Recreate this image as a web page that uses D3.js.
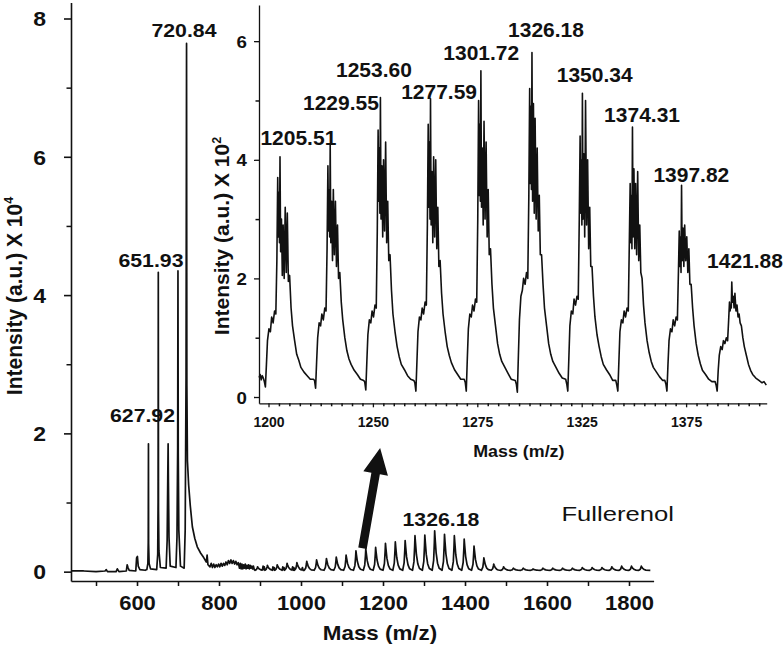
<!DOCTYPE html>
<html><head><meta charset="utf-8">
<script src="https://cdn.jsdelivr.net/npm/d3@7"></script>
<style>body{margin:0;background:#fff}svg{display:block}text{font-family:"Liberation Sans",Arial,sans-serif}</style>
</head><body><svg id="c" width="784" height="646"></svg>
<script>
// ---------- DATA ----------
// main spectrum, low-mass region: [m/z, intensity x10^4]
const mainTrace = [[439,0.01],[470,0.01],[500,0.0],[522,0.01],[525,0.03],[528,0.0],[549,0.0],[552,0.04],[556,0.0],[574,0.01],[576,0.1],[578,0.06],[581,0.02],[597,0.01],[599,0.2],[601,0.22],[603,0.08],[607,0.03],[620,0.02],
 [624,0.03],[626.5,0.12],[627.4,0.42],[627.92,1.85],[628.3,0.4],[629.5,0.12],[633,0.04],
 [648,0.03],[650.5,0.25],[651.4,1.0],[651.93,4.33],[652.4,0.9],[653.5,0.3],[657,0.06],
 [671,0.05],[673.5,0.45],[675,1.35],[675.9,1.85],[676.6,1.3],[678,0.5],[681,0.08],
 [695,0.06],[697.5,0.5],[699.2,1.8],[699.9,4.35],[700.6,1.7],[702,0.6],[706,0.08],
 [715,0.05],[717.5,0.6],[719.6,2.8],[720.84,7.64],[721.6,2.7],[723,1.6],[726,1.25],[730,0.95],[735,0.65],[741,0.48],[747,0.36],[755,0.27],[763,0.2],[769,0.14],[771,0.24],[773,0.1],
 [778,0.07],[781,0.12],[784,0.06],[787,0.11],[790,0.06],[793,0.1],[796,0.07],[799,0.11],[802,0.07],[805,0.12],[808,0.08],[811,0.12],[814,0.09],[817,0.14],[820,0.1],[823,0.16],[826,0.12],[829,0.17],[832,0.12],[835,0.16],[838,0.11],[841,0.15],[844,0.1],[847,0.13],
 [850,0.05],[852,0.12],[854,0.04],[856,0.11],[858,0.04],[860,0.1],[862,0.05],[864,0.11],[866,0.04],[868,0.09],[870,0.05],[872,0.1],[874,0.04],[876,0.09],[878,0.05],[880,0.08],[882,0.04],[884,0.08],[886,0.03]];
// valley noise between the first cluster peaks
const clusterNoise = [[906,0.03],[907.5,0.08],[909,0.03],[910.5,0.07],[930,0.02],[931.5,0.07],[933,0.03],[934.5,0.06],[954,0.02],[955.5,0.07],[957,0.03],[958.5,0.06],[978,0.03],[979.5,0.07],[981,0.02],[982.5,0.06],[1002,0.03],[1003.5,0.06],[1005,0.02]];
// main spectrum, fullerenol cluster peaks (m/z) and heights (x10^4)
const clusterMass = [894,918,942,966,990,1014,1038,1062,1086,1110,1134,1158,1182,1206,1230,1254,1278,1302,1326,1350,1374,1398,1422,1446,1470,1494,1518,1542,1566,1590,1614,1638,1662,1686,1710,1734,1758,1782,1806,1830];
const clusterHeight = [0.07,0.09,0.1,0.12,0.13,0.15,0.17,0.19,0.21,0.24,0.3,0.33,0.35,0.41,0.43,0.45,0.52,0.53,0.59,0.54,0.52,0.47,0.37,0.2,0.11,0.07,0.05,0.05,0.04,0.05,0.05,0.05,0.05,0.06,0.06,0.06,0.07,0.08,0.08,0.08];

// inset spectrum (x10^2): peaks, and profile values at mass offsets from each peak
const insetPeaks = [1205.51,1229.55,1253.60,1277.59,1301.72,1326.18,1350.34,1374.31,1397.82,1421.88];
const insetOffsets = [-8,-7.5,-7,-6.5,-6,-5.3,-4.6,-4,-3.3,-2.6,-2,-1.5,-1.1,-0.8,-0.5,-0.25,0,0.3,0.7,1.1,1.5,2,2.5,3,3.5,4,4.6,5.3,6,7,8,9,10,11.5,13,14.5];
const insetC1 = [0.32,0.26,0.17,0.55,0.95,1.15,1.1,1.35,1.25,1.45,1.4,2.3,3.7,2.7,3.45,2.6,4.05,2.45,3.0,2.05,2.9,2.0,3.2,2.1,3.1,1.95,2.05,1.5,1.2,0.95,0.72,0.62,0.5,0.42,0.36,0.3];
const insetC2 = [0.3,0.28,0.15,0.6,1.0,1.25,1.2,1.4,1.3,1.5,1.45,2.5,3.9,2.8,3.5,2.7,4.27,2.6,3.3,2.3,3.5,2.4,3.3,2.2,2.9,2.0,2.1,1.6,1.3,1.0,0.78,0.64,0.55,0.45,0.38,0.3];
const insetC3 = [0.28,0.25,0.12,0.6,1.05,1.3,1.25,1.45,1.35,1.55,1.5,2.8,4.5,3.3,4.2,3.1,5.05,3.0,3.9,2.7,4.0,2.8,4.3,2.6,3.3,2.3,2.4,1.8,1.4,1.1,0.85,0.68,0.55,0.46,0.36,0.3];
const insetC4 = [0.28,0.24,0.1,0.6,1.1,1.35,1.3,1.5,1.4,1.6,1.55,2.9,4.6,3.2,4.3,3.0,5.03,2.9,3.8,2.6,4.05,2.7,4.0,2.5,3.2,2.2,2.3,1.75,1.4,1.1,0.85,0.7,0.58,0.46,0.38,0.3];
const insetC5 = [0.3,0.25,0.1,0.65,1.15,1.4,1.35,1.55,1.45,1.65,1.6,3.0,5.0,3.4,4.6,3.3,5.5,3.2,4.2,2.9,4.65,3.0,4.3,2.7,3.5,2.4,2.5,1.9,1.5,1.2,0.9,0.72,0.6,0.5,0.4,0.3];
const insetC6 = [0.28,0.22,0.08,0.7,1.3,1.7,1.8,2.0,1.9,2.1,2.0,3.4,5.2,3.6,4.9,3.5,5.81,3.3,4.95,3.1,4.7,3.0,4.2,2.8,3.4,2.4,2.4,1.9,1.5,1.2,0.9,0.72,0.6,0.5,0.4,0.32];
const insetC7 = [0.3,0.22,0.1,0.65,1.2,1.45,1.4,1.65,1.55,1.7,1.65,3.0,4.4,3.1,4.0,2.9,5.12,3.0,4.1,2.7,5.0,2.9,4.0,2.5,3.2,2.2,2.2,1.7,1.35,1.05,0.85,0.68,0.55,0.46,0.38,0.28];
const insetC8 = [0.28,0.2,0.1,0.6,1.1,1.3,1.25,1.45,1.35,1.5,1.45,2.6,3.6,2.6,3.4,2.5,4.55,2.7,3.85,2.5,3.6,2.4,3.8,2.3,2.9,2.1,2.0,1.55,1.25,0.95,0.75,0.6,0.5,0.42,0.34,0.28];
const insetC9 = [0.28,0.22,0.1,0.55,0.95,1.15,1.1,1.3,1.2,1.35,1.3,2.1,2.8,2.2,2.7,2.1,3.57,2.3,2.85,2.2,2.9,2.3,2.7,2.1,2.5,1.9,1.9,1.5,1.2,0.9,0.7,0.56,0.45,0.38,0.3,0.26];
const insetC10 = [0.26,0.2,0.1,0.45,0.7,0.85,0.8,0.95,0.9,1.0,0.95,1.3,1.6,1.45,1.55,1.5,1.94,1.6,1.7,1.5,1.75,1.45,1.55,1.35,1.4,1.25,1.2,1.0,0.85,0.7,0.55,0.45,0.38,0.32,0.28,0.24];
const insetLead = [[1195.5,0.33],[1196,0.38],[1196.5,0.29],[1197,0.36]];
const insetTail = [[1437.3,0.26],[1438.4,0.2]];

// axes ticks and labels
const mainYTicks = [0,2,4,6,8], mainYMinor = [1,3,5,7];
const mainXTicks = [600,800,1000,1200,1400,1600,1800], mainXMinor = [500,700,900,1100,1300,1500,1700];
const insetYTicks = [0,2,4,6], insetYMinor = [1,3,5];
const insetXTicks = [1200,1250,1300,1350,1400];
const insetXTickLabels = ["1200","1250","1275","1325","1375"];
// annotations (label text at data coordinates)
const mainLabels = [["720.84",714.6,7.73],["651.93",634.1,4.41],["627.92",613.4,2.17],["1326.18",1341.4,0.66]];
const insetLabels = [["1205.51",1214.3,4.25],["1229.55",1234.7,4.84],["1253.60",1250.5,5.40],["1277.59",1281.7,5.02],["1301.72",1301.9,5.68],["1326.18",1332.9,6.07],["1350.34",1356.2,5.31],["1374.31",1378.9,4.64],["1397.82",1402.5,3.63],["1421.88",1428.2,2.17]];
const arrowFrom = [1150,0.34], arrowTo = [1193,1.79];

// ---------- DRAW ----------
const svg = d3.select("#c");
const FONT = '"Liberation Sans",Arial,sans-serif';
const x = d3.scaleLinear().domain([439,1860]).range([71,653.6]);
const y = d3.scaleLinear().domain([-0.135,8.23]).range([581,2.6]);
const xi = d3.scaleLinear().domain([1195.45,1438.6]).range([259,766.7]);
const yi = d3.scaleLinear().domain([-0.106,6.61]).range([403.3,5]);

function styleAxis(g, sw){
  g.select(".domain").attr("stroke","#111").attr("stroke-width",sw);
  g.selectAll(".tick line").attr("stroke","#111").attr("stroke-width",sw);
}
function styleText(g, dx, dy, fs, sx, anchor, dyEm){
  g.selectAll(".tick text").attr("x",0).attr("y",0).attr("dy",dyEm)
   .attr("text-anchor",anchor).attr("fill","#111")
   .attr("transform",`translate(${dx},${dy}) scale(${sx},1)`)
   .style("font-size",fs+"px").style("font-weight","bold").style("font-family",FONT);
}
function minor(g){ g.select(".domain").remove(); g.selectAll(".tick line").attr("stroke","#111").attr("stroke-width",1.5); }

// main axes
const gmy = svg.append("g").attr("transform",`translate(${x.range()[0]},0)`)
  .call(d3.axisLeft(y).tickValues(mainYTicks).tickSize(7).tickSizeOuter(0).tickFormat(d3.format("d")));
styleAxis(gmy,1.6); styleText(gmy,-25,0,20,1.15,"end","0.36em");
svg.append("g").attr("transform",`translate(${x.range()[0]},0)`)
  .call(d3.axisLeft(y).tickValues(mainYMinor).tickSize(4.5).tickSizeOuter(0).tickFormat("")).call(minor);
const gmx = svg.append("g").attr("transform",`translate(0,${y.range()[0]})`)
  .call(d3.axisBottom(x).tickValues(mainXTicks).tickSize(5).tickSizeOuter(0).tickFormat(d3.format("d")));
styleAxis(gmx,1.6); styleText(gmx,0,29,20,1.1,"middle","0");
svg.append("g").attr("transform",`translate(0,${y.range()[0]})`)
  .call(d3.axisBottom(x).tickValues(mainXMinor).tickSize(5).tickSizeOuter(0).tickFormat("")).call(minor);

// inset axes
const giy = svg.append("g").attr("transform",`translate(${xi.range()[0]},0)`)
  .call(d3.axisLeft(yi).tickValues(insetYTicks).tickSize(5).tickSizeOuter(0).tickFormat(d3.format("d")));
styleAxis(giy,1.3); styleText(giy,-12,0,17,1.1,"end","0.36em");
svg.append("g").attr("transform",`translate(${xi.range()[0]},0)`)
  .call(d3.axisLeft(yi).tickValues(insetYMinor).tickSize(3.5).tickSizeOuter(0).tickFormat("")).call(minor);
const gix = svg.append("g").attr("transform",`translate(0,${yi.range()[0]})`)
  .call(d3.axisBottom(xi).tickValues(insetXTicks).tickSize(4).tickSizeOuter(0).tickFormat((d,i)=>insetXTickLabels[i]));
styleAxis(gix,1.3); styleText(gix,0,23.4,14,1.0,"middle","0");
svg.append("g").attr("transform",`translate(0,${yi.range()[0]})`)
  .call(d3.axisBottom(xi).tickValues(d3.range(1200,1436,5).filter(v=>!insetXTicks.includes(v))).tickSize(3).tickSizeOuter(0).tickFormat("")).call(minor);

// main spectrum
const mainPts = mainTrace.concat(clusterNoise);
clusterMass.forEach((m,i)=>{
  const h = clusterHeight[i], b = 0.02, d = h-b;
  mainPts.push([m-6,b],[m-2.5,b+0.25*d],[m-0.8,b+0.7*d],[m,h],[m+1.2,b+0.8*d],[m+3.5,b+0.45*d],[m+7,b+0.18*d],[m+11,b+0.05*d]);
});
mainPts.push([1852,0.02]);
mainPts.sort((a,b)=>a[0]-b[0]);
const line = d3.line().x(d=>x(d[0])).y(d=>y(d[1]));
svg.append("path").attr("d",line(mainPts)).attr("fill","none").attr("stroke","#111").attr("stroke-width",1.7).attr("stroke-linejoin","round");

// inset spectrum
const insetClusters = [insetC1,insetC2,insetC3,insetC4,insetC5,insetC6,insetC7,insetC8,insetC9,insetC10];
const insetPts = insetLead.slice();
insetPeaks.forEach((p,k)=>insetOffsets.forEach((o,j)=>insetPts.push([p+o, insetClusters[k][j]])));
insetTail.forEach(d=>insetPts.push(d));
const linei = d3.line().x(d=>xi(d[0])).y(d=>yi(d[1]));
svg.append("path").attr("d",linei(insetPts)).attr("fill","none").attr("stroke","#111").attr("stroke-width",1.6).attr("stroke-linejoin","round");

// labels
function label(txt, px, py, fs, sx, weight){
  svg.append("text").attr("transform",`translate(${px},${py}) scale(${sx},1)`)
    .attr("text-anchor","middle").attr("fill","#111")
    .style("font-size",fs+"px").style("font-weight",weight||"bold").style("font-family",FONT).text(txt);
}
mainLabels.forEach(d=>label(d[0], x(d[1]), y(d[2]), 19, 1.12));
insetLabels.forEach(d=>label(d[0], xi(d[1]), yi(d[2]), 20, 1.05));
label("Fullerenol", x(1782)-4, y(0.733), 21, 1.22, "normal");

// axis titles
function title(px, py, fs, sx, rot, main, sup){
  const t = svg.append("text").attr("transform",`translate(${px},${py}) scale(${sx},1)`+(rot?" rotate(-90)":""))
    .attr("text-anchor","middle").attr("fill","#111")
    .style("font-size",fs+"px").style("font-weight","bold").style("font-family",FONT);
  t.append("tspan").text(main);
  if(sup) t.append("tspan").attr("dy",-fs*0.4).style("font-size",(fs*0.6)+"px").text(sup);
}
title(22, 296, 21, 1.08, true, "Intensity (a.u.) X 10", "4");
title(229, 236, 21, 1.0, true, "Intensity (a.u.) X 10", "2");
title(380, 640, 20, 1.12, false, "Mass (m/z)");
title((xi.range()[0]+xi.range()[1])/2 + 6, 457, 17, 1.05, false, "Mass (m/z)");

// arrow
(function(){
  const t=[x(arrowFrom[0]),y(arrowFrom[1])], h=[x(arrowTo[0]),y(arrowTo[1])];
  const L=Math.hypot(h[0]-t[0],h[1]-t[1]), ux=(h[0]-t[0])/L, uy=(h[1]-t[1])/L, nx=-uy, ny=ux;
  const sw=4.3, hw=12.5, hl=26, bx=h[0]-ux*hl, by=h[1]-uy*hl;
  const p=[[t[0]+nx*sw,t[1]+ny*sw],[bx+nx*sw,by+ny*sw],[bx+nx*hw,by+ny*hw],h,[bx-nx*hw,by-ny*hw],[bx-nx*sw,by-ny*sw],[t[0]-nx*sw,t[1]-ny*sw]];
  svg.append("path").attr("d","M"+p.map(d=>d.join(",")).join("L")+"Z").attr("fill","#111");
})();
</script></body></html>
